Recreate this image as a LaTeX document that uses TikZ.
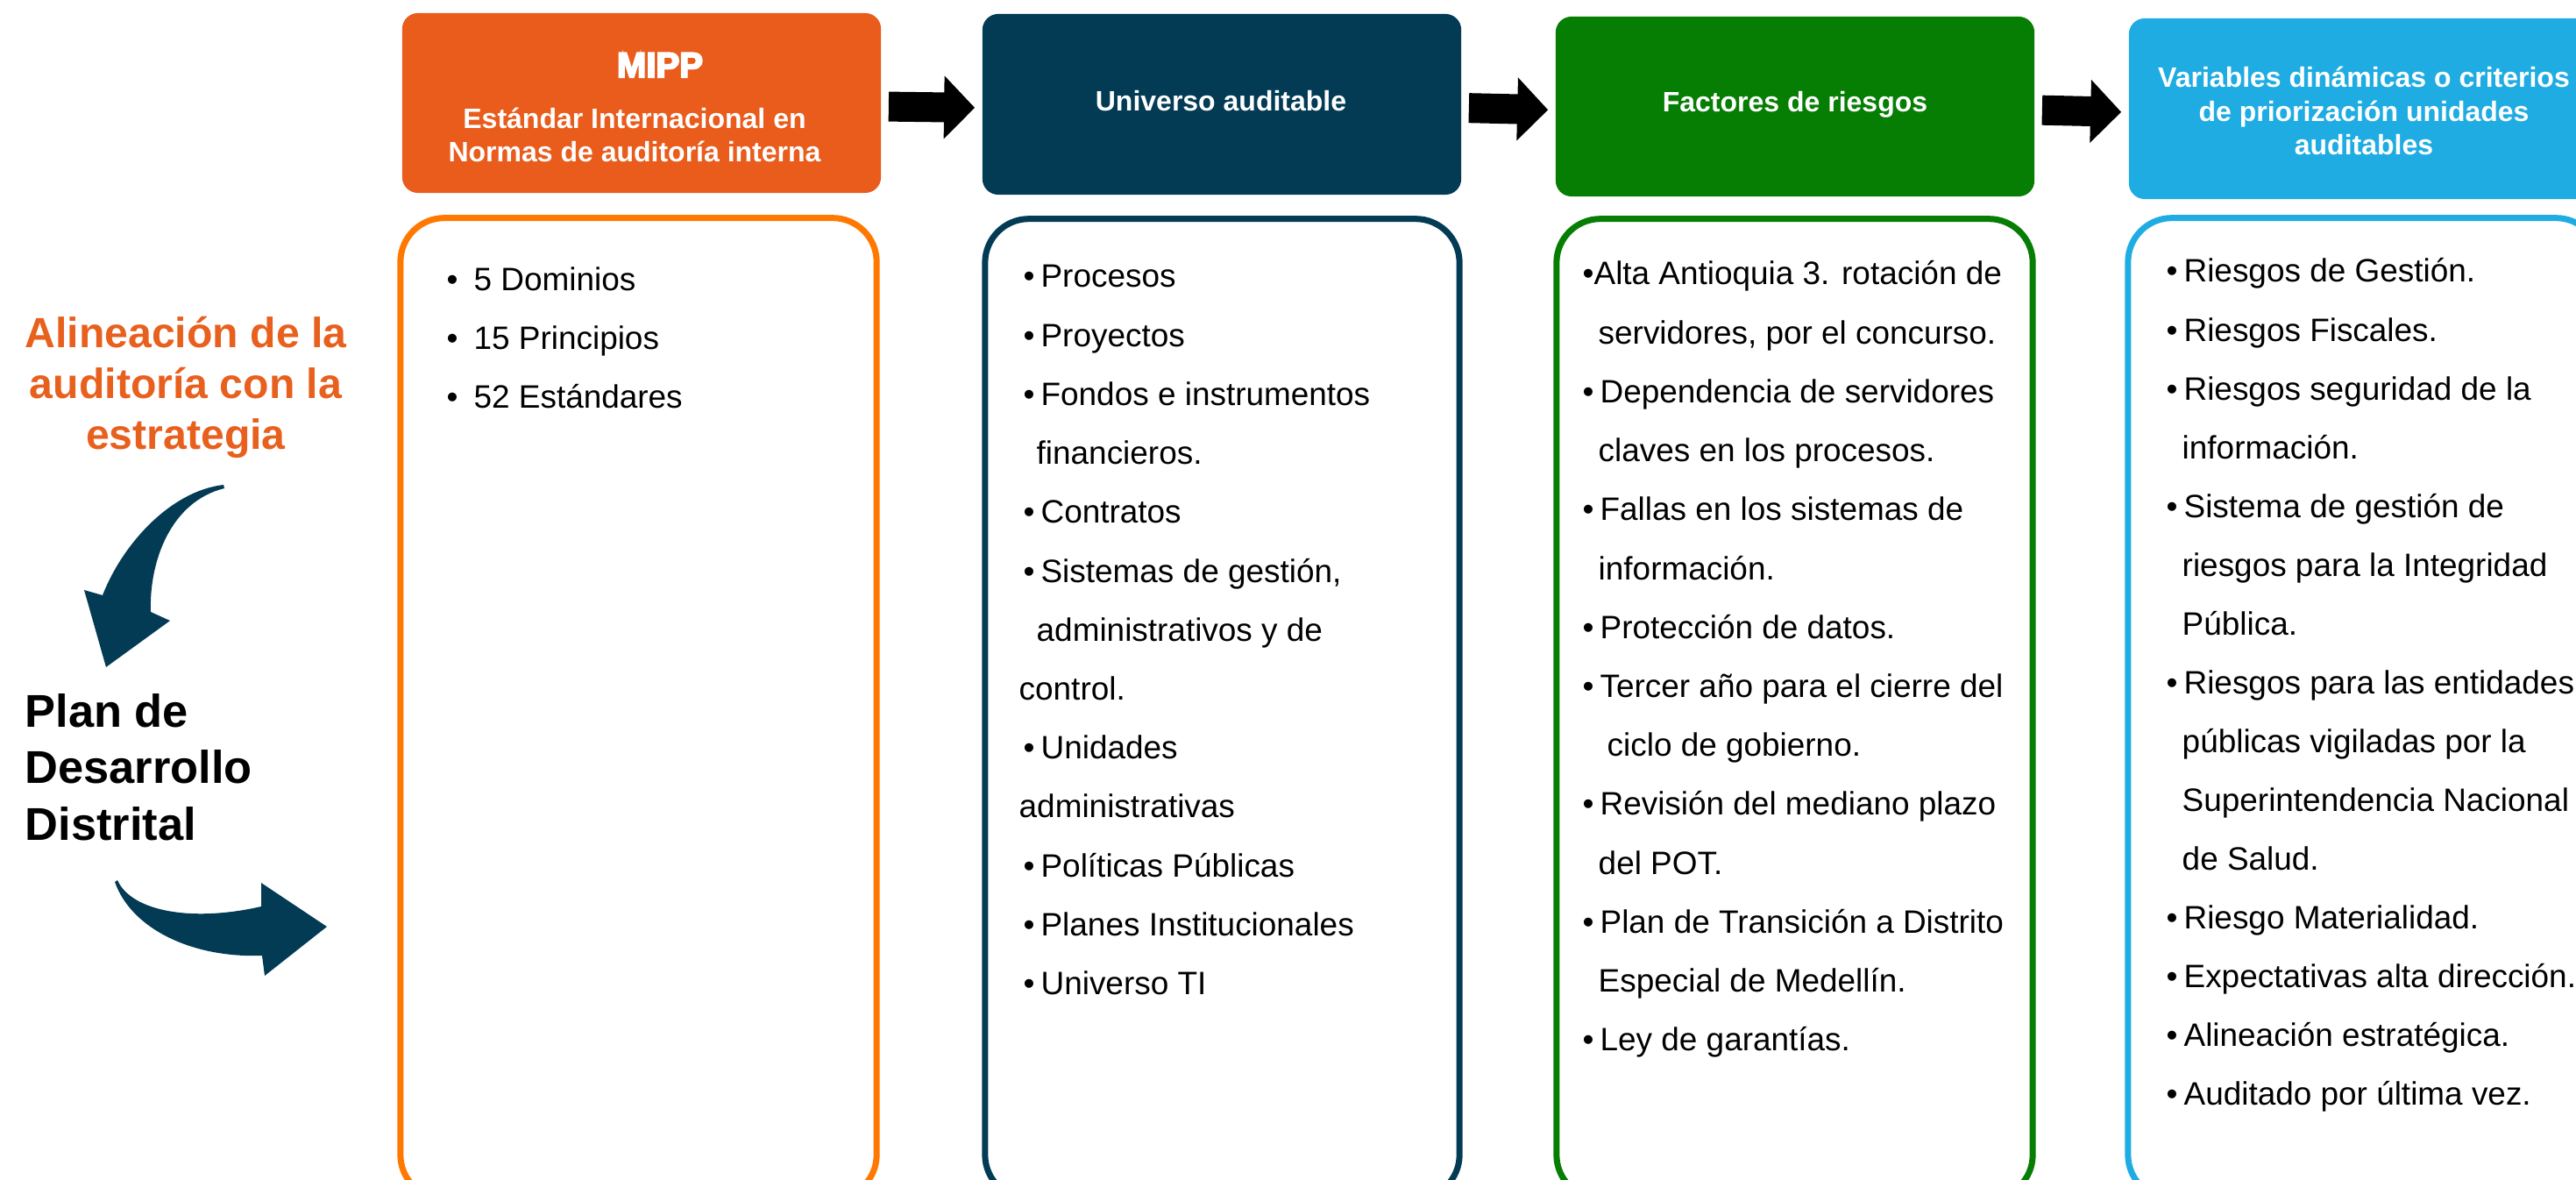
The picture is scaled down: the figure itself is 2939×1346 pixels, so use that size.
\documentclass[tikz,border=0pt]{standalone}
\usepackage{fontspec}
\setmainfont{Liberation Sans}
\newfontfamily\mippfont[FakeBold=5]{Liberation Sans Bold}
\usetikzlibrary{arrows.meta,positioning}

\definecolor{mippnaranja}{HTML}{E95C1C}
\definecolor{bordenaranja}{HTML}{FF7800}
\definecolor{azulosc}{HTML}{033B55}
\definecolor{verde}{HTML}{067D03}
\definecolor{celeste}{HTML}{1FACE2}
\definecolor{textonaranja}{HTML}{E8601E}

\newcommand{\vineta}{•\hspace{0.07cm}}

\tikzset{
  cabecera/.style={rounded corners=0.18cm, inner sep=0pt},
  caja/.style={rounded corners=0.5cm, line width=0.07cm, fill=white, inner sep=0pt},
  flecha/.style={line width=0.34cm, -{Triangle[length=0.35cm,width=0.70cm]},
    shorten <=0.08cm, shorten >=0.08cm},
  titulo/.style={anchor=base, inner sep=0pt, text=white,
    font=\bfseries\fontsize{9.1}{11}\selectfont},
  item/.style={anchor=base west, inner sep=0pt, font=\fontsize{10.5}{12}\selectfont},
  lado/.style={anchor=base, inner sep=0pt, font=\bfseries\fontsize{13.7}{16}\selectfont}
}

\begin{document}
\begin{tikzpicture}[x=0.01cm, y=-0.01cm]
\useasboundingbox (0,0) rectangle (2939,1346);

% cabeceras
\node[cabecera, fill=mippnaranja, minimum width=5.46cm, minimum height=2.05cm] (mipp) at (732,117.5) {};
\node[cabecera, fill=azulosc, minimum width=5.46cm, minimum height=2.06cm] (univ) at (1394,119) {};
\node[cabecera, fill=verde, minimum width=5.46cm, minimum height=2.05cm] (fact) at (2048,121.5) {};
\node[cabecera, fill=celeste, minimum width=5.36cm, minimum height=2.06cm] (vari) at (2697,124) {};

% cajas de contenido
\node[caja, draw=bordenaranja, minimum width=5.43cm, minimum height=11.18cm] (cmipp) at (728.5,808) {};
\node[caja, draw=azulosc, minimum width=5.41cm, minimum height=11.17cm] (cuniv) at (1394.5,808.5) {};
\node[caja, draw=verde, minimum width=5.43cm, minimum height=11.17cm] (cfact) at (2047.5,808.5) {};
\node[caja, draw=celeste, minimum width=5.38cm, minimum height=11.18cm] (cvari) at (2697,808) {};

% flechas entre cabeceras
\draw[flecha] ([yshift=-0.04cm]mipp.east) -- ([yshift=-0.04cm]univ.west);
\draw[flecha] ([yshift=-0.04cm]univ.east) -- ([yshift=-0.04cm]fact.west);
\draw[flecha] ([yshift=-0.04cm]fact.east) -- ([yshift=-0.04cm]vari.west);

% textos de las cabeceras
\node[titulo, font=\mippfont\fontsize{11.4}{13}\selectfont] (t-mipp) at (753,88) {MIPP};
\node[titulo] (t-mipp1) at (724,147) {Estándar Internacional en};
\node[titulo] (t-mipp2) at (724,185) {Normas de auditoría interna};
\node[titulo] (t-univ) at (1393,127) {Universo auditable};
\node[titulo] (t-fact) at (2048,128) {Factores de riesgos};
\node[titulo] (t-vari1) at (2697,100) {Variables dinámicas o criterios};
\node[titulo] (t-vari2) at (2697,138.5) {de priorización unidades};
\node[titulo] (t-vari3) at (2697,177) {auditables};

% listas
\foreach \txt [count=\k] in {5 Dominios, 15 Principios, 52 Estándares}
  \node[item] (l-mipp-\k) at (509,{265+67*\k}) {•\hspace{0.18cm}\txt};

\foreach \dx/\txt [count=\k] in {0/{\vineta Procesos}, 0/{\vineta Proyectos},
    0/{\vineta Fondos e instrumentos}, 15/{financieros.}, 0/{\vineta Contratos},
    0/{\vineta Sistemas de gestión,}, 15/{administrativos y de}, -5/{control.},
    0/{\vineta Unidades}, -5/{administrativas}, 0/{\vineta Políticas Públicas},
    0/{\vineta Planes Institucionales}, 0/{\vineta Universo TI}}
  \node[item] (l-univ-\k) at ({1167+\dx},{260.8+67.2*\k}) {\txt};

\foreach \dx/\txt [count=\k] in {0/{•Alta Antioquia 3. rotación de},
    18/{servidores, por el concurso.}, 0/{\vineta Dependencia de servidores},
    18/{claves en los procesos.}, 0/{\vineta Fallas en los sistemas de},
    18/{información.}, 0/{\vineta Protección de datos.},
    0/{\vineta Tercer año para el cierre del}, 28/{ciclo de gobierno.},
    0/{\vineta Revisión del mediano plazo}, 18/{del POT.},
    0/{\vineta Plan de Transición a Distrito}, 18/{Especial de Medellín.},
    0/{\vineta Ley de garantías.}}
  \node[item] (l-fact-\k) at ({1805+\dx},{257.8+67.2*\k}) {\txt};

\foreach \dx/\txt [count=\k] in {0/{\vineta Riesgos de Gestión.}, 0/{\vineta Riesgos Fiscales.},
    0/{\vineta Riesgos seguridad de la}, 18/{información.},
    0/{\vineta Sistema de gestión de}, 18/{riesgos para la Integridad}, 18/{Pública.},
    0/{\vineta Riesgos para las entidades}, 18/{públicas vigiladas por la},
    18/{Superintendencia Nacional}, 18/{de Salud.}, 0/{\vineta Riesgo Materialidad.},
    0/{\vineta Expectativas alta dirección.}, 0/{\vineta Alineación estratégica.},
    0/{\vineta Auditado por última vez.}}
  \node[item] (l-vari-\k) at ({2471+\dx},{254.93+67.07*\k}) {\txt};

% lado izquierdo
\node[lado, text=textonaranja] (alin1) at (212,397) {Alineación de la};
\node[lado, text=textonaranja] (alin2) at (212,454.5) {auditoría con la};
\node[lado, text=textonaranja] (alin3) at (212,512) {estrategia};
\node[lado, anchor=base west, font=\bfseries\fontsize{14.9}{17}\selectfont] (plan1) at (28,829) {Plan de};
\node[lado, anchor=base west, font=\bfseries\fontsize{14.9}{17}\selectfont] (plan2) at (28,893) {Desarrollo};
\node[lado, anchor=base west, font=\bfseries\fontsize{14.9}{17}\selectfont] (plan3) at (28,958) {Distrital};

% flechas curvas
\fill[azulosc] (255,553) .. controls (195,560) and (140,620) .. (117,679)
  -- (96,673) -- (121,761) -- (194,708) -- (172,698)
  .. controls (170,640) and (195,572) .. (256,557) -- cycle;
\fill[azulosc] (134,1004) .. controls (150,1040) and (220,1052) .. (298,1034)
  -- (298,1007) -- (373,1057) -- (302,1113) -- (299,1090)
  .. controls (220,1093) and (150,1060) .. (131,1006) -- cycle;
\end{tikzpicture}
\end{document}
